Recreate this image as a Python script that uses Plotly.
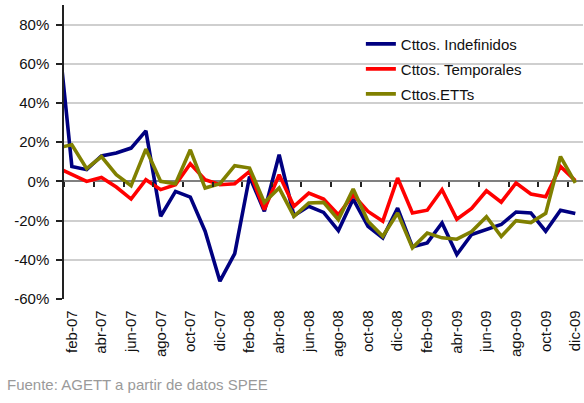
import plotly.graph_objects as go

# Monthly series, ene-07 .. dic-09 (year-on-year % change)
months = ["ene-07", "feb-07", "mar-07", "abr-07", "may-07", "jun-07", "jul-07", "ago-07", "sep-07", "oct-07", "nov-07", "dic-07",
          "ene-08", "feb-08", "mar-08", "abr-08", "may-08", "jun-08", "jul-08", "ago-08", "sep-08", "oct-08", "nov-08", "dic-08",
          "ene-09", "feb-09", "mar-09", "abr-09", "may-09", "jun-09", "jul-09", "ago-09", "sep-09", "oct-09", "nov-09", "dic-09"]

indefinidos = [82, 7.6, 6, 13, 14.5, 17, 25.8, -17.8, -5.1, -8, -25.4, -50.9,
               -36.8, 2.5, -15.3, 13.6, -17.5, -12.7, -15.8, -25.1, -9, -22.9, -28.8, -13.6,
               -33.4, -31.4, -21.2, -37.3, -27.1, -24.6, -22, -15.6, -16.1, -25.4, -14.7, -16.4]

temporales = [7.1, 3.4, 0, 2, -2.9, -9, 0.9, -4.2, -1.7, 9, 0.9, -1.7,
              -1.2, 5.1, -14.4, 3.4, -12.7, -6, -9, -17, -6.8, -15.3, -20.3, 1.7,
              -16.1, -14.7, -4.2, -19.3, -13.8, -4.8, -10.6, -0.8, -6.4, -7.8, 7.6, 0.4]

etts = [17, 18.7, 6.5, 12.7, 3.4, -2.2, 16.5, 0, -1.2, 16.1, -3.4, -1.2,
        8, 6.8, -10.7, -3.4, -17.8, -11, -10.7, -19.5, -3.9, -20.3, -28, -16.1,
        -33.9, -26.4, -28.8, -29.5, -25.6, -18, -28.1, -20, -21, -16.3, 12.7, -0.7]

series_names = ["Cttos. Indefinidos", "Cttos. Temporales", "Cttos.ETTs"]
series_colors = ["#000080", "#FF0000", "#808000"]

y_ticks = [-60, -40, -20, 0, 20, 40, 60, 80]

idx = list(range(len(months)))
label_idx = idx[1::2]
label_text = months[1::2]
tick_idx = [i + 0.5 for i in idx[0:-1:2]]

FONT = "Liberation Sans, Arial, sans-serif"
xr = [0.47, 35.52]

fig = go.Figure()
for name, vals, col in zip(series_names, [indefinidos, temporales, etts], series_colors):
    fig.add_trace(go.Scatter(x=idx, y=vals, mode="lines", name=name, legendgroup=name,
                             line=dict(color=col, width=3.6)))

fig.update_layout(
    width=584, height=403, autosize=False,
    margin=dict(l=64, r=1, t=5, b=104),
    paper_bgcolor="white", plot_bgcolor="white",
    font=dict(family=FONT, size=15, color="#111"),
    showlegend=True,
    legend=dict(x=0.572, xanchor="left", y=0.923, yanchor="top",
                bgcolor="rgba(0,0,0,0)", borderwidth=0,
                font=dict(family=FONT, size=15, color="#111"),
                traceorder="grouped", tracegroupgap=2.5),
    xaxis=dict(range=xr, anchor="free", position=0.4, side="bottom",
               tickmode="array", tickvals=label_idx, ticktext=label_text,
               tickangle=-90, ticks="", showgrid=False, zeroline=False, showline=False,
               automargin=False,
               minor=dict(tickmode="array", tickvals=tick_idx, ticks="outside", ticklen=5,
                          tickwidth=1.5, tickcolor="#222", showgrid=False),
               ticklabelstandoff=125, tickfont=dict(family=FONT, size=15, color="#111")),
    yaxis=dict(range=[-60, 90], tickmode="array", tickvals=y_ticks,
               ticktext=[f"{v}%" for v in y_ticks],
               showgrid=True, gridcolor="#cfcfcf", gridwidth=1.5,
               zeroline=True, zerolinecolor="#808080", zerolinewidth=2,
               showline=True, linecolor="#222", linewidth=1.5,
               ticks="outside", ticklen=6, tickwidth=1.5, tickcolor="#222",
               automargin=False,
               ticklabelstandoff=4, tickfont=dict(family=FONT, size=15, color="#111")),
    shapes=[dict(type="rect", xref="paper", yref="paper", x0=0.482, x1=1.0, y0=0.61, y1=0.915,
                 fillcolor="white", line=dict(width=0), layer="between")],
    annotations=[dict(text="Fuente: AGETT a partir de datos SPEE", xref="paper", yref="paper",
                      x=-0.1137, y=-0.2925, xanchor="left", yanchor="middle", showarrow=False,
                      font=dict(family=FONT, size=15, color="#9a9a9a"))],
)

fig.write_html("out.html", config={"displayModeBar": False},
               post_script="document.body.style.margin='0';document.body.style.padding='0';")
